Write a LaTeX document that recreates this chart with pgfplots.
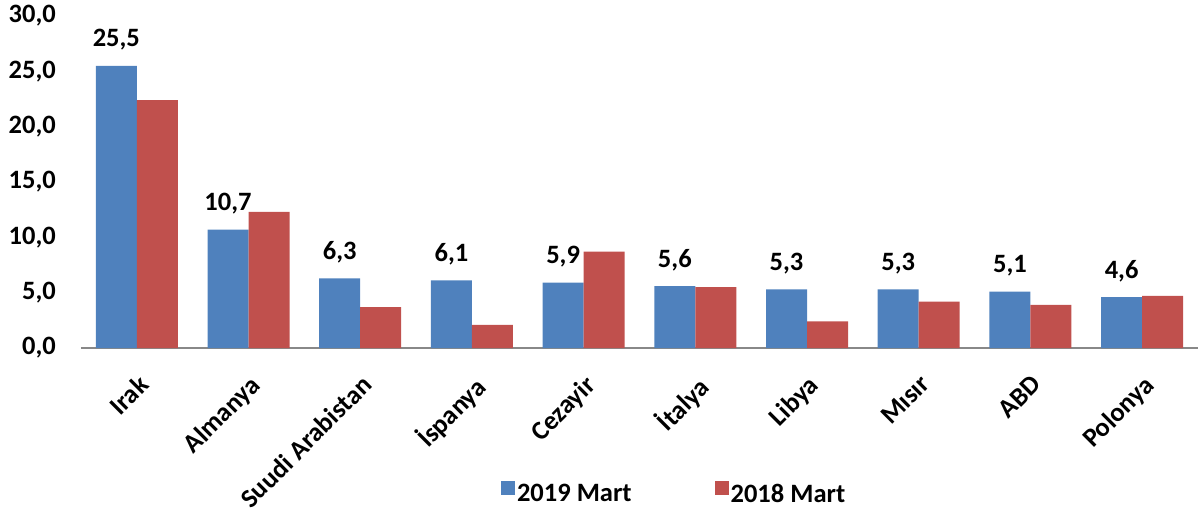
\documentclass[border=0pt]{standalone}
\usepackage{pgfplots}
\pgfplotsset{compat=1.18}
\usepackage{fontspec}
\setmainfont{Carlito}
\definecolor{cblue}{HTML}{4F81BD}
\definecolor{cred}{HTML}{C0504D}
\definecolor{axgray}{HTML}{888888}
\newcommand{\cf}{\fontsize{26.5}{31}\selectfont\bfseries}
\begin{document}
\begin{tikzpicture}[x=1pt,y=1pt]
\path[use as bounding box] (0,0) rectangle (1198,514);
\begin{axis}[
  at={(81pt,166pt)}, anchor=south west,
  scale only axis, width=1117pt, height=332pt,
  ybar=0pt, bar width=41pt,
  xmin=-0.5, xmax=9.5, ymin=0, ymax=30,
  enlarge x limits=false,
  ytick={0,5,...,30},
  xtick={0,...,9},
  xticklabels={Irak,Almanya,Suudi Arabistan,İspanya,Cezayir,İtalya,Libya,Mısır,ABD,Polonya},
  separate axis lines,
  axis x line*=bottom, axis y line*=left,
  y axis line style={draw=none},
  x axis line style={draw=axgray, line width=2pt, -},
  major tick length=0pt,
  tick style={draw=none},
  /pgf/number format/assume math mode=true,
  /pgf/number format/use comma,
  /pgf/number format/fixed, /pgf/number format/fixed zerofill,
  /pgf/number format/precision=1,
  yticklabel style={font=\cf, anchor=east, inner sep=0pt, xshift=-25pt},
  xticklabel style={font=\cf, rotate=45, anchor=north east, inner sep=0pt, xshift=-18pt, yshift=-18pt},
  clip=false,
  legend style={draw=none, fill=none, font=\cf, at={(0.531,-0.437)}, anchor=center,
    legend columns=2, /tikz/every even column/.append style={column sep=81pt}},
  legend image code/.code={\fill[#1] (-5pt,-1pt) rectangle (9pt,13pt);},
]
\addplot[fill=cblue, draw=none,
  nodes near coords, 
  nodes near coords style={font=\cf, anchor=base, inner sep=0pt, yshift=19pt, text=black},
] coordinates {(0,25.5) (1,10.7) (2,6.3) (3,6.1) (4,5.9) (5,5.6) (6,5.3) (7,5.3) (8,5.1) (9,4.6)};
\addplot[fill=cred, draw=none] coordinates {(0,22.4) (1,12.3) (2,3.7) (3,2.1) (4,8.7) (5,5.5) (6,2.4) (7,4.2) (8,3.9) (9,4.7)};
\legend{2019 Mart, 2018 Mart}
\end{axis}
\end{tikzpicture}
\end{document}
